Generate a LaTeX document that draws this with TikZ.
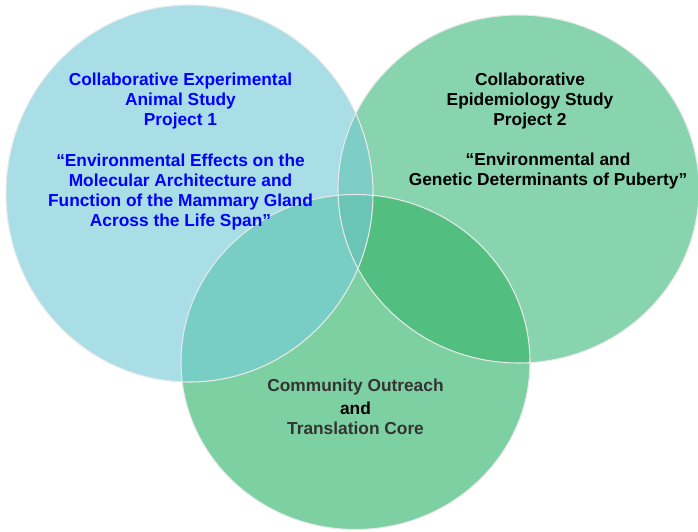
\documentclass[tikz,border=0pt]{standalone}
\usepackage{fontspec}
\setmainfont{Liberation Sans}
\definecolor{cA}{HTML}{A9DEE6}
\definecolor{cB}{HTML}{87D4AE}
\definecolor{cC}{HTML}{7DD0A2}
\definecolor{cAB}{HTML}{7ECDC6}
\definecolor{cAC}{HTML}{78CDC4}
\definecolor{cBC}{HTML}{52BF80}
\definecolor{cABC}{HTML}{6AC5B6}
\definecolor{edgecol}{HTML}{E9E9E9}
\definecolor{blueText}{HTML}{0000FF}
\definecolor{darkText}{HTML}{333333}
\begin{document}
\begin{tikzpicture}[x=0.75pt,y=-0.75pt,
  edge/.style={draw=edgecol, line width=0.8pt},
  lbl/.style={font=\fontsize{13}{15}\selectfont\bfseries, align=center, inner sep=0pt}]
\useasboundingbox (0,0) rectangle (698,531);
\def\cone{(189.5,193.5) ellipse [x radius=137.625pt, y radius=141.375pt]}
\def\ctwo{(518.5,189) ellipse [x radius=135.375pt, y radius=130.5pt]}
\def\cthree{(355.5,362) ellipse [x radius=130.875pt, y radius=125.625pt]}
\fill[cA] \cone;
\fill[cB] \ctwo;
\fill[cC] \cthree;
\begin{scope}\clip \cone; \fill[cAB] \ctwo; \end{scope}
\begin{scope}\clip \cone; \fill[cAC] \cthree; \end{scope}
\begin{scope}\clip \ctwo; \fill[cBC] \cthree; \end{scope}
\begin{scope}\clip \cone; \clip \ctwo; \fill[cABC] \cthree; \end{scope}
\draw[edge] \cone;
\draw[edge] \ctwo;
\draw[edge] \cthree;
\node[lbl, text=blueText] (t1) at (180.5,101) {Collaborative Experimental\\Animal Study\\Project 1};
\node[lbl, text=blueText] (q1) at (180.5,192) {“Environmental Effects on the\\Molecular Architecture and\\Function of the Mammary Gland\\Across the Life Span”};
\node[lbl, text=black] (t2) at (530,101) {Collaborative\\Epidemiology Study\\Project 2};
\node[lbl, text=black] (q2) at (548,171.5) {“Environmental and\\Genetic Determinants of Puberty”};
\node[lbl, text=darkText] (t3) at (355.5,407) {Community Outreach\\[2pt]\textcolor{black}{and}\\Translation Core};
\end{tikzpicture}
\end{document}
